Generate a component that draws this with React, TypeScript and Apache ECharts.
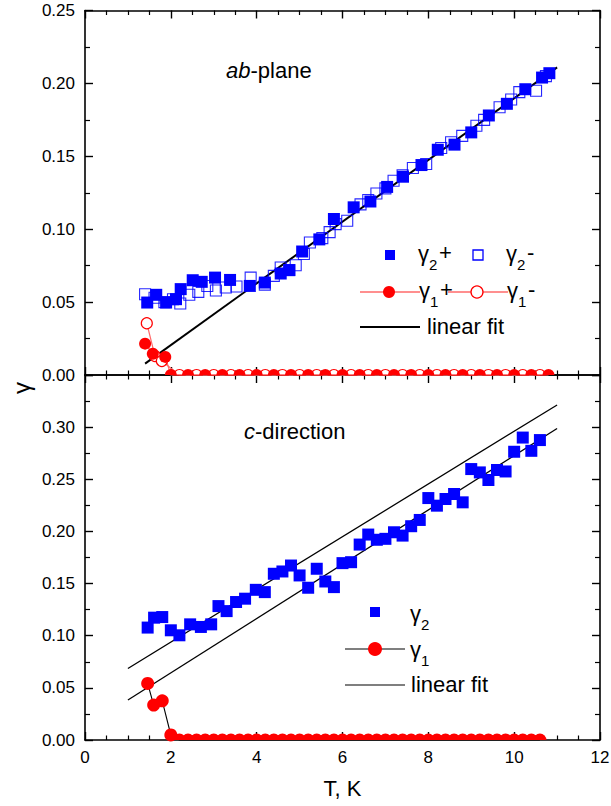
import React, { useEffect, useRef } from "react";
import * as echarts from "echarts";

// ---------- data: ab-plane (top panel) ----------
const AB_G2P_T = [1.45, 1.66, 1.89, 2.12, 2.23, 2.51, 2.72, 3.03, 3.38, 3.84, 4.19, 4.56, 4.76, 5.06, 5.46, 5.8, 6.26, 6.65, 7.04, 7.41, 7.84, 8.22, 8.61, 9.0, 9.41, 9.83, 10.26, 10.65, 10.82];
const AB_G2P_V = [0.0497, 0.055, 0.0497, 0.052, 0.0589, 0.065, 0.0639, 0.0668, 0.0652, 0.0611, 0.0634, 0.0696, 0.0719, 0.0847, 0.093, 0.107, 0.115, 0.119, 0.129, 0.136, 0.144, 0.1545, 0.158, 0.1664, 0.178, 0.186, 0.196, 0.204, 0.207];

const AB_G2M_T = [1.4, 1.62, 1.85, 2.05, 2.22, 2.43, 2.64, 2.85, 3.05, 3.28, 3.53, 3.86, 4.19, 4.4, 4.56, 4.76, 4.91, 5.1, 5.24, 5.53, 5.7, 5.84, 6.11, 6.42, 6.6, 6.79, 7.0, 7.19, 7.4, 7.64, 7.95, 8.3, 8.53, 8.79, 9.12, 9.3, 9.66, 9.93, 10.12, 10.51, 10.74];
const AB_G2M_V = [0.0554, 0.053, 0.05, 0.052, 0.049, 0.055, 0.057, 0.061, 0.058, 0.06, 0.0607, 0.0668, 0.062, 0.068, 0.0737, 0.072, 0.0753, 0.083, 0.0909, 0.0939, 0.098, 0.1035, 0.1058, 0.117, 0.12, 0.1245, 0.128, 0.1332, 0.137, 0.142, 0.1447, 0.1557, 0.1596, 0.164, 0.171, 0.175, 0.1836, 0.189, 0.194, 0.195, 0.205];

const AB_G1P_T = [1.4, 1.58, 1.87, 2.0, 2.4, 2.8, 3.2, 3.6, 4.0, 4.4, 4.8, 5.2, 5.6, 6.0, 6.4, 6.8, 7.2, 7.6, 8.0, 8.4, 8.8, 9.2, 9.6, 10.0, 10.4, 10.8];
const AB_G1P_V = [0.0215, 0.0146, 0.0124, 0, 0, 0, 0, 0, 0, 0, 0, 0, 0, 0, 0, 0, 0, 0, 0, 0, 0, 0, 0, 0, 0, 0];

const AB_G1M_T = [1.44, 1.63, 1.79, 2.2, 2.6, 3.0, 3.4, 3.8, 4.2, 4.6, 5.0, 5.4, 5.8, 6.2, 6.6, 7.0, 7.4, 7.8, 8.2, 8.6, 9.0, 9.4, 9.8, 10.2, 10.6];
const AB_G1M_V = [0.0355, 0.013, 0.0096, 0, 0, 0, 0, 0, 0, 0, 0, 0, 0, 0, 0, 0, 0, 0, 0, 0, 0, 0, 0, 0, 0];

const AB_FIT_T = [1.4, 11.0];
const AB_FIT_V = [0.0078, 0.211];

// ---------- data: c-direction (bottom panel) ----------
const C_G2_T = [1.46, 1.61, 1.8, 2.0, 2.2, 2.45, 2.7, 2.94, 3.11, 3.3, 3.52, 3.73, 3.98, 4.19, 4.4, 4.6, 4.8, 5.0, 5.2, 5.4, 5.6, 5.8, 6.0, 6.2, 6.4, 6.6, 6.8, 7.0, 7.2, 7.4, 7.6, 7.8, 8.0, 8.2, 8.4, 8.6, 8.8, 9.0, 9.2, 9.4, 9.6, 9.8, 10.0, 10.2, 10.4, 10.6];
const C_G2_V = [0.1078, 0.1173, 0.1179, 0.1052, 0.1004, 0.1109, 0.1084, 0.1109, 0.1284, 0.1236, 0.1323, 0.1355, 0.144, 0.1418, 0.1594, 0.1616, 0.1673, 0.1578, 0.146, 0.1642, 0.152, 0.1466, 0.1696, 0.1705, 0.1874, 0.197, 0.192, 0.1929, 0.1992, 0.196, 0.205, 0.211, 0.232, 0.2247, 0.2311, 0.2359, 0.2279, 0.2598, 0.2566, 0.2493, 0.2589, 0.2575, 0.2764, 0.29, 0.2773, 0.2876];

const C_G1_T = [1.46, 1.6, 1.8, 2.0, 2.2, 2.4, 2.6, 2.8, 3.0, 3.2, 3.4, 3.6, 3.8, 4.0, 4.2, 4.4, 4.6, 4.8, 5.0, 5.2, 5.4, 5.6, 5.8, 6.0, 6.2, 6.4, 6.6, 6.8, 7.0, 7.2, 7.4, 7.6, 7.8, 8.0, 8.2, 8.4, 8.6, 8.8, 9.0, 9.2, 9.4, 9.6, 9.8, 10.0, 10.2, 10.4, 10.6];
const C_G1_V = [0.0542, 0.0335, 0.0376, 0.0048, 0, 0, 0, 0, 0, 0, 0, 0, 0, 0, 0, 0, 0, 0, 0, 0, 0, 0, 0, 0, 0, 0, 0, 0, 0, 0, 0, 0, 0, 0, 0, 0, 0, 0, 0, 0, 0, 0, 0, 0, 0, 0, 0];

const C_FIT1_T = [1.0, 11.0];
const C_FIT1_V = [0.0686, 0.3213];
const C_FIT2_T = [1.0, 11.0];
const C_FIT2_V = [0.0383, 0.2987];

// ---------- axes ----------
const X_MIN = 0, X_MAX = 12, X_STEP = 2;
const Y_TOP_MAX = 0.25, Y_BOT_MAX = 0.35, Y_STEP = 0.05;

const FONT = "Arial, 'Liberation Sans', Helvetica, sans-serif";
const BLUE = "#0000ff";
const RED = "#ff0000";
const PINK = "#ff6a6a";
const HALF = "path://M0,10 A10,10 0 0 1 20,10 Z";

const zip = (t: number[], v: number[]) => t.map((x, i) => [x, v[i]]);

function redData(t: number[], v: number[], size: number) {
  return t.map((x, i) =>
    v[i] === 0
      ? { value: [x, 0], symbol: HALF, symbolSize: [size, size / 2], symbolOffset: [0, -size / 4] }
      : { value: [x, v[i]] }
  );
}

export default function App() {
  const ref = useRef<HTMLDivElement>(null);
  useEffect(() => {
    if (!ref.current) return;
    const chart = echarts.init(ref.current, null, { renderer: "svg" });

    const axisLine = { show: true, onZero: false, lineStyle: { color: "#000", width: 1.6 } };
    const tickX = { show: true, inside: true, length: 8, lineStyle: { color: "#000", width: 1.4 } };
    const minorX = { show: true, splitNumber: 4, length: 4.5, lineStyle: { color: "#000", width: 1.2 } };
    const minorY = { show: true, splitNumber: 2, length: 5, lineStyle: { color: "#000", width: 1.2 } };
    const labelStyle = { color: "#000", fontSize: 17, fontFamily: FONT };

    const xBase = (grid: number, pos: string, labels: boolean) => ({
      type: "value",
      gridIndex: grid,
      position: pos,
      min: X_MIN,
      max: X_MAX,
      interval: X_STEP,
      axisLine,
      axisTick: tickX,
      minorTick: minorX,
      splitLine: { show: false },
      axisLabel: labels ? { ...labelStyle, margin: 9 } : { show: false },
    });
    const yBase = (grid: number, pos: string, max: number, labels: boolean) => ({
      type: "value",
      gridIndex: grid,
      position: pos,
      min: 0,
      max,
      interval: Y_STEP,
      axisLine,
      axisTick: tickX,
      minorTick: minorY,
      splitLine: { show: false },
      axisLabel: labels
        ? {
            ...labelStyle,
            margin: 10,
            formatter: (v: number) => (v > 0.34 ? "" : v.toFixed(2)),
          }
        : { show: false },
    });

    const xAxes: any[] = [
      xBase(0, "bottom", false),
      xBase(0, "top", false),
      {
        ...xBase(1, "bottom", true),
        name: "T, K",
        nameLocation: "middle",
        nameGap: 37,
        nameTextStyle: { color: "#000", fontSize: 22, fontFamily: FONT },
      },
      xBase(1, "top", false),
    ];
    const yAxes: any[] = [
      yBase(0, "left", Y_TOP_MAX, true),
      yBase(0, "right", Y_TOP_MAX, false),
      yBase(1, "left", Y_BOT_MAX, true),
      yBase(1, "right", Y_BOT_MAX, false),
    ];

    const txt = (x: number, y: number, text: string, size: number, extra: any = {}) => ({
      type: "text",
      x,
      y,
      z: 100,
      style: { text, fontSize: size, fontFamily: FONT, fill: "#000", verticalAlign: "middle", align: "left", ...extra },
    });
    const gammaLabel = (x: number, y: number, sub: string, tail: string) => [
      txt(x, y, "γ", 22),
      txt(x + 11, y + 11, sub, 15),
      ...(tail ? [txt(x + 21, y - 1, tail, 22)] : []),
    ];
    const hline = (x1: number, x2: number, y: number, color: string, w: number) => ({
      type: "line",
      z: 99,
      shape: { x1, y1: y, x2, y2: y },
      style: { stroke: color, lineWidth: w },
    });

    const graphic: any[] = [
      {
        type: "text",
        x: 226,
        y: 70,
        style: {
          text: "{i|ab}{n|-plane}",
          verticalAlign: "middle",
          rich: {
            i: { fontSize: 22, fontFamily: FONT, fontStyle: "italic", fill: "#000" },
            n: { fontSize: 22, fontFamily: FONT, fill: "#000" },
          },
        },
      },
      {
        type: "text",
        x: 244,
        y: 431,
        style: {
          text: "{i|c}{n|-direction}",
          verticalAlign: "middle",
          rich: {
            i: { fontSize: 22, fontFamily: FONT, fontStyle: "italic", fill: "#000" },
            n: { fontSize: 22, fontFamily: FONT, fill: "#000" },
          },
        },
      },
      {
        type: "text",
        x: 21,
        y: 388,
        rotation: Math.PI / 2,
        style: { text: "γ", fontSize: 24, fontFamily: FONT, fill: "#000", align: "center", verticalAlign: "middle" },
      },
      // top legend row 1
      { type: "rect", z: 99, shape: { x: 385, y: 250, width: 10, height: 10 }, style: { fill: BLUE } },
      ...gammaLabel(418, 253, "2", "+"),
      { type: "rect", z: 99, shape: { x: 473, y: 250, width: 10, height: 10 }, style: { fill: "#fff", stroke: BLUE, lineWidth: 1.3 } },
      ...gammaLabel(506, 253, "2", "-"),
      // top legend row 2
      hline(360, 420, 292, PINK, 1.3),
      { type: "circle", z: 100, shape: { cx: 389, cy: 292, r: 6 }, style: { fill: RED } },
      ...gammaLabel(419, 290, "1", "+"),
      hline(448, 508, 292, PINK, 1.3),
      { type: "circle", z: 100, shape: { cx: 477, cy: 292, r: 6 }, style: { fill: "#fff", stroke: RED, lineWidth: 1.3 } },
      ...gammaLabel(507, 290, "1", "-"),
      // top legend row 3
      hline(360, 420, 327, "#000", 2),
      txt(427, 326, "linear fit", 22),
      // bottom legend
      { type: "rect", z: 99, shape: { x: 370, y: 607, width: 10, height: 10 }, style: { fill: BLUE } },
      ...gammaLabel(410, 613, "2", ""),
      hline(345, 405, 649, "#000", 1.2),
      { type: "circle", z: 100, shape: { cx: 375, cy: 649, r: 7 }, style: { fill: RED } },
      ...gammaLabel(410, 649, "1", ""),
      hline(345, 405, 685, "#000", 1.2),
      txt(411, 684, "linear fit", 22),
    ];

    const option: any = {
      animation: false,
      backgroundColor: "#fff",
      grid: [
        { left: 85, right: 11, top: 10.5, height: 364.5, outerBoundsMode: "none", containLabel: false },
        { left: 85, right: 11, top: 375, height: 365, outerBoundsMode: "none", containLabel: false },
      ],
      xAxis: xAxes,
      yAxis: yAxes,
      graphic,
      series: [
        {
          name: "fit ab",
          type: "line",
          xAxisIndex: 0,
          yAxisIndex: 0,
          data: zip(AB_FIT_T, AB_FIT_V),
          symbol: "none",
          lineStyle: { color: "#000", width: 2 },
          z: 1,
        },
        {
          name: "γ2- ab",
          type: "scatter",
          xAxisIndex: 0,
          yAxisIndex: 0,
          data: zip(AB_G2M_T, AB_G2M_V),
          symbol: "rect",
          symbolSize: 11,
          itemStyle: { color: "rgba(255,255,255,0)", borderColor: BLUE, borderWidth: 1.1, opacity: 0.85 },
          z: 3,
        },
        {
          name: "γ2+ ab",
          type: "scatter",
          xAxisIndex: 0,
          yAxisIndex: 0,
          data: zip(AB_G2P_T, AB_G2P_V),
          symbol: "rect",
          symbolSize: 12,
          itemStyle: { color: BLUE, opacity: 1 },
          z: 2,
        },
        {
          name: "γ1- ab",
          type: "line",
          xAxisIndex: 0,
          yAxisIndex: 0,
          data: redData(AB_G1M_T, AB_G1M_V, 11),
          symbol: "circle",
          symbolSize: 11,
          showAllSymbol: true,
          clip: false,
          lineStyle: { color: PINK, width: 1.2 },
          itemStyle: { color: "#fff", borderColor: RED, borderWidth: 1.2 },
          z: 4,
        },
        {
          name: "γ1+ ab",
          type: "line",
          xAxisIndex: 0,
          yAxisIndex: 0,
          data: redData(AB_G1P_T, AB_G1P_V, 12),
          symbol: "circle",
          symbolSize: 12,
          showAllSymbol: true,
          clip: false,
          lineStyle: { color: PINK, width: 1.2 },
          itemStyle: { color: RED },
          z: 4,
        },
        {
          name: "fit c upper",
          type: "line",
          xAxisIndex: 2,
          yAxisIndex: 2,
          data: zip(C_FIT1_T, C_FIT1_V),
          symbol: "none",
          lineStyle: { color: "#000", width: 1.3 },
          z: 1,
        },
        {
          name: "fit c lower",
          type: "line",
          xAxisIndex: 2,
          yAxisIndex: 2,
          data: zip(C_FIT2_T, C_FIT2_V),
          symbol: "none",
          lineStyle: { color: "#000", width: 1.3 },
          z: 1,
        },
        {
          name: "γ2 c",
          type: "scatter",
          xAxisIndex: 2,
          yAxisIndex: 2,
          data: zip(C_G2_T, C_G2_V),
          symbol: "rect",
          symbolSize: 12,
          itemStyle: { color: BLUE, opacity: 1 },
          z: 2,
        },
        {
          name: "γ1 c",
          type: "line",
          xAxisIndex: 2,
          yAxisIndex: 2,
          data: redData(C_G1_T, C_G1_V, 13),
          symbol: "circle",
          symbolSize: 13,
          showAllSymbol: true,
          clip: false,
          lineStyle: { color: "#000", width: 1.1 },
          itemStyle: { color: RED },
          z: 3,
        },
      ],
    };

    chart.setOption(option);
    return () => chart.dispose();
  }, []);

  return (
    <div
      ref={ref}
      style={{ position: "absolute", left: 0, top: 0, width: 611, height: 806, background: "#fff" }}
    />
  );
}
